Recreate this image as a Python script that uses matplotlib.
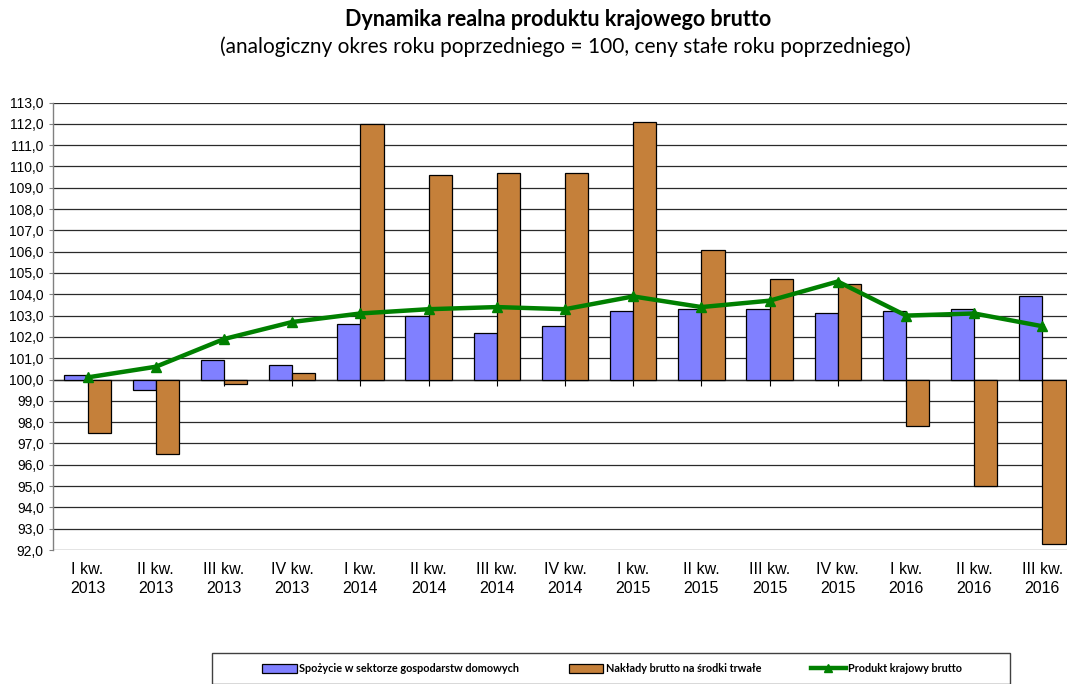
import matplotlib
matplotlib.use("Agg")
import matplotlib.pyplot as plt
import numpy as np
from matplotlib.lines import Line2D
from matplotlib.patches import Patch, Rectangle

categories = ["I kw.\n2013", "II kw.\n2013", "III kw.\n2013", "IV kw.\n2013",
              "I kw.\n2014", "II kw.\n2014", "III kw.\n2014", "IV kw.\n2014",
              "I kw.\n2015", "II kw.\n2015", "III kw.\n2015", "IV kw.\n2015",
              "I kw.\n2016", "II kw.\n2016", "III kw.\n2016"]
spozycie = [100.2, 99.5, 100.9, 100.7, 102.6, 103.0, 102.2, 102.5,
            103.2, 103.3, 103.3, 103.1, 103.2, 103.3, 103.9]
naklady = [97.5, 96.5, 99.8, 100.3, 112.0, 109.6, 109.7, 109.7,
           112.1, 106.1, 104.7, 104.5, 97.8, 95.0, 92.3]
pkb = [100.1, 100.6, 101.9, 102.7, 103.1, 103.3, 103.4, 103.3,
       103.9, 103.4, 103.7, 104.6, 103.0, 103.1, 102.5]
yticks = np.arange(92, 114, 1)

BLUE = "#8080FF"
ORANGE = "#C5803A"
GREEN = "#008000"

fig = plt.figure(figsize=(10.67, 6.84), dpi=100)
W, H = 1067, 684
left, right_px = 53.5, 53.5 + 15 * 68.2
top_px, bot_px = 102.5, 550
ax = fig.add_axes([left / W, 1 - bot_px / H, (right_px - left) / W, (bot_px - top_px) / H])

x = np.arange(len(categories))
bw = 0.34
base = 100.0
ax.bar(x - bw / 2, np.array(spozycie) - base, bottom=base, width=bw, color=BLUE,
       edgecolor="black", linewidth=0.9, zorder=3)
ax.bar(x + bw / 2, np.array(naklady) - base, bottom=base, width=bw, color=ORANGE,
       edgecolor="black", linewidth=0.9, zorder=3)
ax.plot(x, pkb, color=GREEN, linewidth=3.2, marker="^", markersize=6.5, zorder=5)

ax.set_xlim(-0.5, len(categories) - 0.5)
ax.set_ylim(92, 113)
ax.set_yticks(yticks)
ax.set_yticklabels([f"{v:.1f}".replace(".", ",") for v in yticks],
                   fontsize=10, family="Liberation Sans")
ax.yaxis.grid(True, color="#2a2a2a", linewidth=0.9, zorder=0)
ax.set_axisbelow(True)
ax.tick_params(axis="y", length=3, color="#808080", pad=4)
for s in ["top", "right", "bottom"]:
    ax.spines[s].set_visible(False)
ax.spines["left"].set_color("#808080")
ax.spines["left"].set_linewidth(1.0)

ax.set_xticks(x)
ax.set_xticklabels(categories, fontsize=11.5, family="Liberation Sans", linespacing=1.3)
ax.tick_params(axis="x", length=0, pad=9)

sec = ax.secondary_xaxis((base - 92) / 21)
sec.set_xticks(x)
sec.set_xticklabels([""] * len(x))
sec.tick_params(axis="x", length=4, color="black", direction="out")
sec.spines["bottom"].set_color("black")
sec.spines["bottom"].set_linewidth(0.9)

fig.text(558 / W, 1 - 20 / H, "Dynamika realna produktu krajowego brutto",
         ha="center", va="center", fontsize=15.5, fontweight="bold", family="Lato")
fig.text(565 / W, 1 - 47 / H,
         "(analogiczny okres roku poprzedniego = 100, ceny stałe roku poprzedniego)",
         ha="center", va="center", fontsize=15, family="Lato")

# legend frame
fig.patches.append(Rectangle((212 / W, 0.0 / H), (1010 - 212) / W, (684 - 653) / H,
                             transform=fig.transFigure, fill=False,
                             edgecolor="#404040", linewidth=1.0))
handles = [Patch(facecolor=BLUE, edgecolor="black", linewidth=0.9),
           Patch(facecolor=ORANGE, edgecolor="black", linewidth=0.9),
           Line2D([], [], color=GREEN, linewidth=3.2, marker="^", markersize=6)]
labels = ["Spożycie w sektorze gospodarstw domowych",
          "Nakłady brutto na środki trwałe",
          "Produkt krajowy brutto"]
fig.legend(handles, labels, loc="center", bbox_to_anchor=(612 / W, 1 - 669 / H),
           ncol=3, frameon=False, prop={"family": "Lato", "weight": "bold", "size": 7.8},
           handlelength=3.2, handleheight=0.9, handletextpad=0.2, columnspacing=4.6)

fig.savefig("out.png", dpi=100)
